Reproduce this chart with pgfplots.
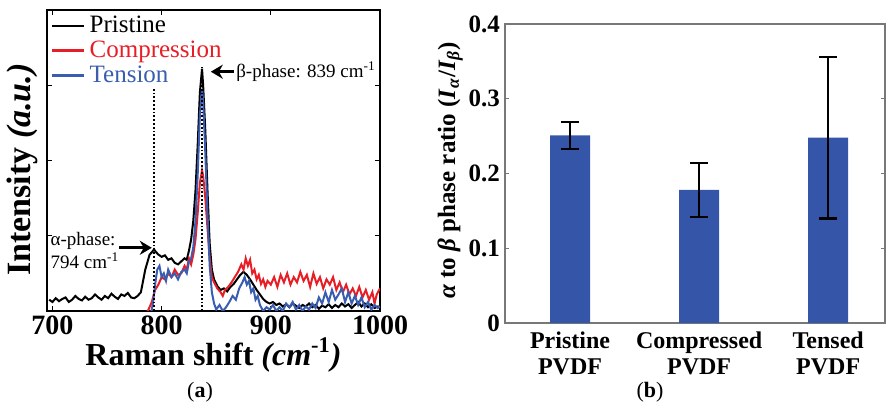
\documentclass[border=0pt]{standalone}
\usepackage{fontspec}
\setmainfont{Liberation Serif}
\usepackage{pgfplots}
\pgfplotsset{compat=1.18}
\usetikzlibrary{arrows.meta}
\definecolor{cred}{RGB}{232,30,38}
\definecolor{cblue}{RGB}{58,93,176}
\definecolor{barblue}{RGB}{53,86,168}
\definecolor{axgray}{RGB}{120,120,120}
\begin{document}
\begin{tikzpicture}
\path[use as bounding box] (0,0) rectangle (443pt,203pt);
% ---------------- left panel ----------------
\begin{axis}[
  at={(23.5pt,47.5pt)}, anchor=south west, scale only axis,
  width=166.5pt, height=150.5pt,
  xmin=695, xmax=1000, ymin=0, ymax=4,
  xtick={700,800,900,1000}, ytick={1,2,3}, yticklabels={},
  tick align=inside, major tick length=2.5pt,
  axis line style={line width=0.8pt},
  tick style={black, line width=0.6pt},
  /pgf/number format/assume math mode=true,
  /pgf/number format/set thousands separator={},
  xticklabel style={font=\fontsize{14}{14}\selectfont\bfseries, yshift=1pt},
  xlabel={\textbf{Raman shift \textit{(cm}\textsuperscript{-1}\textit{)}}},
  xlabel style={font=\fontsize{16}{16}\selectfont, at={(axis description cs:0.5,0)}, anchor=north, yshift=-10pt},
  ylabel={\textbf{Intensity \textit{(a.u.)}}},
  ylabel style={font=\fontsize{17}{17}\selectfont, at={(axis description cs:0,0.47)}, rotate=0, anchor=south, yshift=1pt},
  legend style={at={(axis description cs:0.005,1.0)}, anchor=north west, draw=none, fill=none,
    font=\fontsize{12.5}{13}\selectfont, row sep=-1.5pt, inner sep=1pt},
  legend cell align=left,
  legend image code/.code={\draw[#1, line width=1.3pt] (0pt,0pt) -- (16pt,0pt);},
  clip=true,
]
\addplot[black, line width=1pt] coordinates {
(697,0.15)(700,0.12)(703,0.17)(706,0.13)(709,0.16)(712,0.18)(715,0.12)(718,0.15)(721,0.2)(724,0.16)
(727,0.14)(730,0.19)(733,0.15)(736,0.17)(739,0.22)(742,0.18)(745,0.15)(748,0.2)(751,0.17)(754,0.23)
(757,0.19)(760,0.16)(763,0.22)(766,0.2)(769,0.24)(772,0.18)(775,0.17)(778,0.2)(781,0.25)(783,0.4)
(785,0.55)(787,0.65)(789,0.75)(791,0.78)(793,0.82)(795,0.78)(797,0.75)(800,0.72)(803,0.74)(806,0.68)
(809,0.7)(812,0.64)(815,0.62)(818,0.66)(821,0.7)(823,0.68)(825,0.8)(827,0.95)(829,1.2)(831,1.6)
(833,2.2)(835,2.9)(837,3.22)(838,3.0)(840,2.4)(842,1.6)(844,0.9)(846,0.55)(848,0.42)(851,0.33)
(854,0.28)(857,0.3)(860,0.26)(863,0.32)(866,0.36)(869,0.42)(872,0.48)(875,0.52)(878,0.48)(881,0.42)
(884,0.35)(887,0.28)(890,0.22)(893,0.16)(896,0.12)(899,0.1)(902,0.12)(905,0.08)(908,0.1)(911,0.06)
(914,0.09)(917,0.05)(920,0.1)(923,0.07)(926,0.04)(929,0.08)(932,0.06)(935,0.1)(938,0.05)(941,0.08)
(944,0.03)(947,0.07)(950,0.05)(953,0.09)(956,0.04)(959,0.08)(962,0.05)(965,0.1)(968,0.06)(971,0.09)
(974,0.04)(977,0.08)(980,0.12)(983,0.06)(986,0.1)(989,0.05)(992,0.09)(995,0.04)(998,0.06)(1000,0.05)
};
\addlegendentry{Pristine}
\addplot[cred, line width=1pt] coordinates {
(785,-0.05)(788,0.02)(791,0.12)(794,0.28)(797,0.35)(800,0.45)(803,0.42)(806,0.5)(809,0.45)(812,0.55)
(815,0.48)(818,0.5)(821,0.6)(823,0.55)(825,0.7)(827,0.62)(829,0.75)(831,0.95)(833,1.3)(835,1.7)
(837,1.87)(838,1.8)(840,1.5)(842,1.1)(844,0.7)(846,0.45)(848,0.38)(851,0.3)(854,0.25)(856,0.2)
(858,0.28)(861,0.32)(864,0.38)(867,0.45)(870,0.52)(873,0.62)(875,0.55)(877,0.7)(879,0.6)(881,0.68)
(883,0.5)(885,0.55)(887,0.42)(889,0.48)(891,0.36)(893,0.42)(895,0.32)(897,0.4)(900,0.35)(903,0.45)
(906,0.32)(909,0.48)(912,0.38)(915,0.5)(918,0.35)(921,0.45)(924,0.38)(927,0.52)(930,0.4)(933,0.48)
(936,0.32)(939,0.5)(942,0.36)(945,0.45)(948,0.3)(951,0.42)(954,0.35)(957,0.45)(960,0.28)(963,0.38)
(966,0.25)(969,0.35)(972,0.22)(975,0.3)(978,0.2)(981,0.32)(984,0.18)(987,0.28)(990,0.15)(993,0.25)
(995,0.1)(997,0.22)(1000,0.3)
};
\addlegendentry{\textcolor{cred}{Compression}}
\addplot[cblue, line width=1pt] coordinates {
(790,-0.05)(792,0.1)(794,0.35)(796,0.55)(798,0.6)(800,0.45)(802,0.5)(804,0.4)(806,0.55)(809,0.45)
(812,0.5)(815,0.42)(818,0.52)(821,0.55)(823,0.5)(825,0.65)(827,0.7)(829,0.85)(831,1.2)(833,1.8)
(835,2.6)(837,2.95)(838,2.8)(840,2.1)(842,1.3)(844,0.6)(846,0.25)(848,0.1)(850,0.02)(853,0.08)
(856,0.0)(859,0.05)(862,0.12)(865,0.2)(868,0.15)(871,0.3)(874,0.38)(876,0.45)(878,0.35)(880,0.4)
(882,0.25)(884,0.3)(886,0.15)(888,0.2)(890,0.08)(893,0.0)(896,0.05)(899,0.02)(902,0.08)(905,0.0)
(908,0.05)(911,0.0)(914,0.1)(917,0.05)(920,0.12)(923,0.02)(926,0.08)(929,0.0)(932,0.06)(935,0.02)
(938,0.1)(941,0.04)(944,0.18)(947,0.1)(950,0.25)(953,0.12)(956,0.28)(959,0.15)(962,0.22)(965,0.3)
(968,0.12)(971,0.25)(974,0.1)(977,0.2)(980,0.08)(983,0.18)(986,0.05)(989,0.12)(992,0.02)(995,0.08)(998,0.04)(1000,0.06)
};
\addlegendentry{\textcolor{cblue}{Tension}}
\draw[densely dotted, line width=0.9pt] (axis cs:793,0) -- (axis cs:793,2.96);
\draw[densely dotted, line width=0.9pt] (axis cs:837,0) -- (axis cs:837,3.24);
\draw[-{Stealth[length=6pt,width=7pt]}, line width=1.5pt] (axis cs:866,3.18) -- (axis cs:845,3.18);
\node[anchor=west, font=\fontsize{9.5}{10}\selectfont, inner sep=0pt] at (axis cs:868,3.18) {β-phase: 839 cm\textsuperscript{-1}};
\draw[-{Stealth[length=6pt,width=7pt]}, line width=1.5pt] (axis cs:761,0.84) -- (axis cs:791,0.84);
\node[anchor=west, align=left, font=\fontsize{9.5}{11.5}\selectfont, inner sep=0pt] at (axis cs:698,0.8) {α-phase:\\794 cm\textsuperscript{-1}};
\end{axis}
% ---------------- right panel ----------------
\begin{axis}[
  at={(252.5pt,41.5pt)}, anchor=south west, scale only axis,
  width=190pt, height=149.5pt,
  xmin=-0.504, xmax=2.44, ymin=0, ymax=0.4,
  xtick={0,1,2},
  xticklabels={Pristine\\PVDF, Compressed\\PVDF, Tensed\\PVDF},
  xticklabel style={align=center, font=\fontsize{12}{13}\selectfont\bfseries, yshift=-1pt},
  x tick style={draw=none},
  ytick={0,0.1,0.2,0.3,0.4},
  /pgf/number format/assume math mode=true,
  yticklabel style={font=\fontsize{12.5}{13}\selectfont\bfseries, xshift=1pt},
  y tick style={axgray, line width=0.5pt},
  tick align=inside, major tick length=2pt,
  axis line style={axgray, line width=0.6pt},
  ylabel={\textbf{\textit{α} to \textit{β} phase ratio (\textit{I}\textsubscript{\textit{α}}/\textit{I}\textsubscript{\textit{β}})}},
  ylabel style={font=\fontsize{12.5}{13}\selectfont, at={(axis description cs:0,0.51)}, rotate=0, anchor=south, yshift=17.5pt},
]
\addplot[ybar, bar width=20pt, fill=barblue, draw=none,
  error bars/.cd, y dir=both, y explicit,
  error bar style={black, line width=1.2pt},
  error mark options={black, line width=1.2pt, mark size=4.5pt, rotate=90}]
coordinates {
(0,0.251) +- (0,0.018)
(1,0.178) +- (0,0.036)
(2,0.248) +- (0,0.108)
};
\end{axis}
\node[font=\fontsize{11}{11}\selectfont] at (100pt,7pt) {(\textbf{a})};
\node[font=\fontsize{11}{11}\selectfont] at (325pt,7pt) {(\textbf{b})};
\end{tikzpicture}
\end{document}
